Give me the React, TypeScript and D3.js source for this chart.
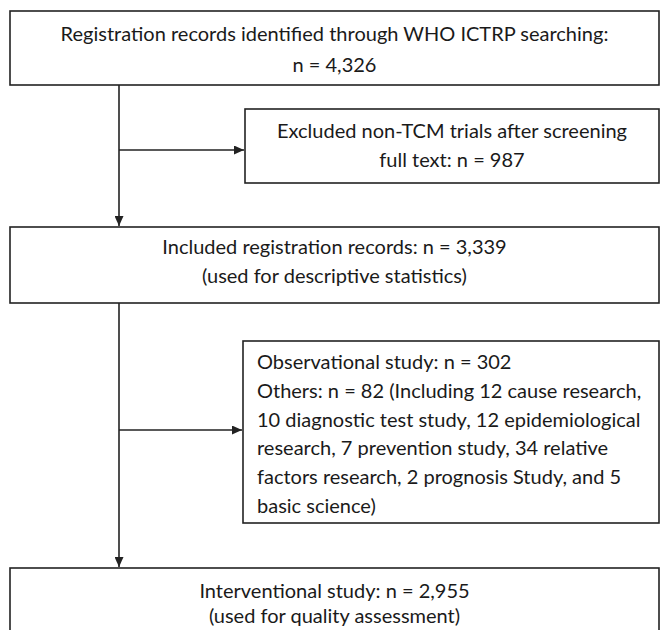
import React, { useEffect, useRef } from "react";
import * as d3 from "d3";

// box texts, one entry per line
const topLines = ["Registration records identified through WHO ICTRP searching:", "n = 4,326"];
const excludedLines = ["Excluded non-TCM trials after screening", "full text: n = 987"];
const includedLines = ["Included registration records: n = 3,339", "(used for descriptive statistics)"];
const otherLines = [
  "Observational study: n = 302",
  "Others: n = 82 (Including 12 cause research,",
  "10 diagnostic test study, 12 epidemiological",
  "research, 7 prevention study, 34 relative",
  "factors research, 2 prognosis Study, and 5",
  "basic science)",
];
const finalLines = ["Interventional study: n = 2,955", "(used for quality assessment)"];

const FONT = "Lato, 'Open Sans', sans-serif";

const App: React.FC = () => {
  const svgRef: any = useRef();

  useEffect(() => {
    const svg = d3.select(svgRef.current);
    svg.selectAll("*").remove();

    const width = 660;
    const height = 630;
    const stroke = "#222";
    const trunkX = 119;

    // layout: box edges, first text line and line spacing
    const boxes = [
      { id: "top", x0: 10, y0: 11, x1: 659, y1: 85, lines: topLines, align: "middle", ty: 34, lh: 31 },
      { id: "excl", x0: 245, y0: 109, x1: 659, y1: 183, lines: excludedLines, align: "middle", ty: 131, lh: 29 },
      { id: "incl", x0: 10, y0: 227, x1: 659, y1: 303, lines: includedLines, align: "middle", ty: 247, lh: 29 },
      { id: "other", x0: 243, y0: 341, x1: 659, y1: 523, lines: otherLines, align: "start", ty: 362, lh: 28.8 },
      { id: "final", x0: 10, y0: 568, x1: 659, y1: 660, lines: finalLines, align: "middle", ty: 591, lh: 25 },
    ];

    const defs = svg.append("defs");
    defs
      .append("marker")
      .attr("id", "arrow")
      .attr("viewBox", "0 0 10 9")
      .attr("refX", 10)
      .attr("refY", 4.5)
      .attr("markerWidth", 10)
      .attr("markerHeight", 9)
      .attr("markerUnits", "userSpaceOnUse")
      .attr("orient", "auto")
      .append("path")
      .attr("d", "M0,0 L10,4.5 L0,9 Z")
      .attr("fill", stroke);

    svg.append("rect").attr("width", width).attr("height", height).attr("fill", "#fff");

    const g = svg.append("g");

    g.selectAll("rect.box")
      .data(boxes)
      .enter()
      .append("rect")
      .attr("class", "box")
      .attr("x", (d) => d.x0)
      .attr("y", (d) => d.y0)
      .attr("width", (d) => d.x1 - d.x0)
      .attr("height", (d) => d.y1 - d.y0)
      .attr("fill", "#fff")
      .attr("stroke", stroke)
      .attr("stroke-width", 1.6);

    boxes.forEach((b) => {
      const tx = b.align === "middle" ? (b.x0 + b.x1) / 2 : b.x0 + 14;
      b.lines.forEach((line, i) => {
        g.append("text")
          .attr("x", tx)
          .attr("y", b.ty + i * b.lh)
          .attr("dy", "0.35em")
          .attr("text-anchor", b.align)
          .attr("font-family", FONT)
          .attr("font-size", 20)
          .attr("fill", "#1a1a1a")
          .text(line);
      });
    });

    const byId: any = Object.fromEntries(boxes.map((b) => [b.id, b]));

    const seg = (x1: number, y1: number, x2: number, y2: number, arrow: boolean) => {
      const l = g
        .append("line")
        .attr("x1", x1)
        .attr("y1", y1)
        .attr("x2", x2)
        .attr("y2", y2)
        .attr("stroke", stroke)
        .attr("stroke-width", 1.6);
      if (arrow) l.attr("marker-end", "url(#arrow)");
    };

    // main trunk
    seg(trunkX, byId.top.y1, trunkX, byId.incl.y0 - 1, true);
    seg(trunkX, byId.incl.y1, trunkX, byId.final.y0 - 1, true);
    // side branches
    seg(trunkX, 150, byId.excl.x0 - 1, 150, true);
    seg(trunkX, 430, byId.other.x0 - 1, 430, true);
  }, []);

  return (
    <svg
      ref={svgRef}
      width={660}
      height={630}
      style={{ position: "absolute", left: 0, top: 0, display: "block" }}
    />
  );
};

export default App;
